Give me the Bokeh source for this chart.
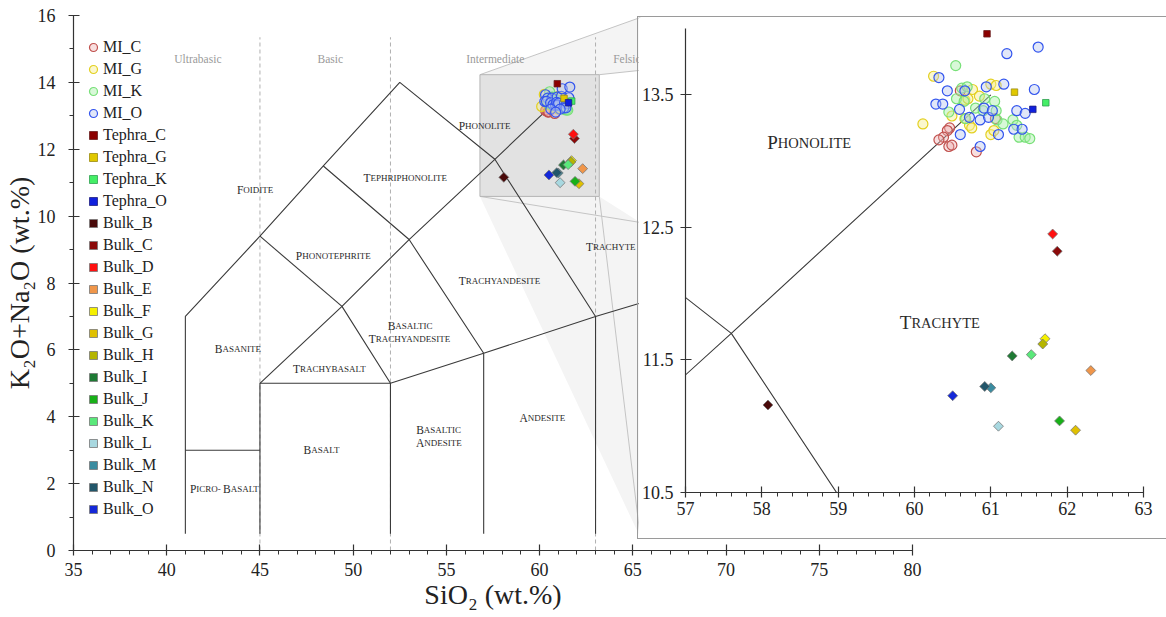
import math
from bokeh.plotting import figure
from bokeh.models import (Range1d, SingleIntervalTicker, FixedTicker, Legend, LegendItem,
                          ColumnDataSource)
from bokeh.core.properties import value
from bokeh.embed import file_html
from bokeh.resources import INLINE

FONT = "Liberation Serif"

# ---------------- data (SiO2 wt.%, K2O+Na2O wt.%) ----------------
mi_c_sio2 = [60.46, 60.43, 60.38, 60.32, 60.45, 60.49, 60.81, 60.60, 61.06]
mi_c_alk = [13.25, 13.23, 13.18, 13.16, 13.11, 13.12, 13.07, 13.53, 13.32]

mi_g_sio2 = [60.25, 60.11, 61.00, 61.07, 60.76, 60.85, 60.66, 60.70, 61.00, 61.04, 60.72, 60.75, 60.49, 60.66]
mi_g_alk = [13.64, 13.28, 13.58, 13.57, 13.54, 13.49, 13.46, 13.47, 13.20, 13.23, 13.27, 13.25, 13.34, 13.32]

mi_k_sio2 = [60.54, 60.62, 60.69, 60.55, 60.65, 61.05, 60.45, 60.80, 60.90, 61.07, 61.08, 61.16, 61.29,
             61.34, 61.37, 61.45, 61.51, 60.67, 60.92]
mi_k_alk = [13.72, 13.55, 13.56, 13.47, 13.45, 13.45, 13.37, 13.40, 13.38, 13.38, 13.31, 13.28, 13.31,
            13.27, 13.18, 13.18, 13.17, 13.32, 13.47]

mi_o_sio2 = [60.32, 60.43, 60.66, 60.94, 61.17, 61.21, 61.62, 61.57, 60.28, 60.37, 60.59, 60.72, 60.86,
             60.91, 60.97, 61.02, 61.34, 61.45, 61.30, 61.41, 60.60, 61.10, 60.86]
mi_o_alk = [13.63, 13.53, 13.53, 13.56, 13.58, 13.81, 13.86, 13.54, 13.43, 13.43, 13.39, 13.33, 13.31,
            13.40, 13.33, 13.38, 13.38, 13.36, 13.24, 13.24, 13.20, 13.20, 13.11]

tephra_names = ["Tephra_C", "Tephra_G", "Tephra_K", "Tephra_O"]
tephra_sio2 = [60.95, 61.31, 61.72, 61.55]
tephra_alk = [13.96, 13.52, 13.44, 13.39]

bulk_names = ["Bulk_B", "Bulk_C", "Bulk_D", "Bulk_E", "Bulk_F", "Bulk_G", "Bulk_H",
              "Bulk_I", "Bulk_J", "Bulk_K", "Bulk_L", "Bulk_M", "Bulk_N", "Bulk_O"]
bulk_sio2 = [58.08, 61.87, 61.81, 62.31, 61.71, 62.11, 61.68, 61.28, 61.90, 61.53, 61.10, 61.00, 60.92, 60.50]
bulk_alk = [11.16, 12.32, 12.45, 11.42, 11.66, 10.97, 11.62, 11.53, 11.04, 11.54, 11.00, 11.29, 11.30, 11.23]

# TAS field boundaries (Le Bas et al. 1986)
tas_sio2 = [
    [41, 41, 45, 48.4, 52.5, 57.6, 63, 63],
    [41, 45],
    [45, 45, 52, 52],
    [52, 57, 63, 69],
    [57, 57],
    [45, 49.4, 52],
    [49.4, 53, 57],
    [45, 49.4],
    [48.4, 53, 57.6, 61],
]
tas_alk = [
    [0.5, 7, 9.4, 11.5, 14, 11.7, 7, 0.5],
    [3, 3],
    [0.5, 5, 5, 0.5],
    [5, 5.9, 7, 8],
    [0.5, 5.9],
    [5, 7.3, 5],
    [7.3, 9.3, 5.9],
    [9.4, 7.3],
    [11.5, 9.3, 11.7, 13.5],
]

divider_sio2 = [45, 52, 63]
zone_names = ["Ultrabasic", "Basic", "Intermediate", "Felsic"]

# field names in small caps: (initial, rest)
field_initial = ["F", "T", "P", "P", "B", "B", "T", "T", "T", "T", "A", "B", "A", "B", "P", "B"]
field_rest = ["OIDITE", "EPHRIPHONOLITE", "HONOLITE", "HONOTEPHRITE", "ASANITE", "ASALTIC",
              "RACHYANDESITE", "RACHYBASALT", "RACHYANDESITE", "RACHYTE", "NDESITE", "ASALTIC",
              "NDESITE", "ASALT", "ICRO-", "ASALT"]
inset_initial = ["P", "T"]
inset_rest = ["HONOLITE", "RACHYTE"]

# ---------------- layout / style positions ----------------
zone_x = [41.67, 48.77, 57.62, 64.68]
zone_y = [14.71] * 4
field_x = [44.11, 50.93, 56.00, 47.27, 42.99, 52.26, 51.21, 47.15, 56.04, 62.87, 59.37, 53.79, 53.81,
           47.75, 41.59, 43.43]
field_y = [10.78, 11.14, 12.69, 8.81, 6.03, 6.72, 6.32, 5.43, 8.06, 9.07, 3.96, 3.60, 3.21, 3.01, 1.84, 1.84]
inset_lx = [58.21, 59.96]
inset_ly = [13.14, 11.78]

zoom_x0, zoom_x1, zoom_y0, zoom_y1 = 56.8, 63.2, 10.59, 14.23
edge_x = 65.40
edge_y = [15.94, 14.36, 9.81, 0.39]

mi_style = [("MI_C", mi_c_sio2, mi_c_alk, "#c0504d", "#eeb0b0", 0.4),
            ("MI_G", mi_g_sio2, mi_g_alk, "#e3d020", "#f6ee90", 0.45),
            ("MI_K", mi_k_sio2, mi_k_alk, "#78e078", "#a8f0a8", 0.45),
            ("MI_O", mi_o_sio2, mi_o_alk, "#3355ee", "#b4c4ee", 0.4)]
tephra_fill = ["#8b0000", "#e0c800", "#44ee66", "#1020dd"]
tephra_line = ["#6a2020", "#9a8a10", "#30a050", "#202080"]
bulk_fill = ["#4a0a0a", "#8b0a0a", "#ff1010", "#f0964a", "#f5f000", "#e0c000", "#b5b500",
             "#1e7a34", "#18b018", "#5ae87a", "#a8d8e0", "#3a8ca0", "#22566a", "#1428d8"]


def style_axis(ax, size):
    ax.axis_line_color = "#333333"
    ax.axis_line_width = 1.2
    ax.major_tick_line_color = "#333333"
    ax.minor_tick_line_color = "#333333"
    ax.major_tick_line_width = 1.2
    ax.major_tick_in = 6
    ax.major_tick_out = 5
    ax.minor_tick_in = 0
    ax.minor_tick_out = 4
    ax.major_label_text_font = FONT
    ax.major_label_text_font_size = size
    ax.major_label_text_color = "#222222"
    ax.axis_label_text_font = FONT
    ax.axis_label_text_font_style = "normal"
    ax.axis_label_text_color = "#222222"


def draw_tas(fig):
    fig.multi_line(xs=tas_sio2, ys=tas_alk, line_color="#3a3a3a", line_width=1.1)


def draw_smallcaps(fig, xs, ys, initials, rests, cap_size, small_size):
    src = ColumnDataSource(dict(x=xs, y=ys, a=initials, b=rests))
    fig.text(x="x", y="y", text="a", source=src, text_align="right", text_baseline="alphabetic",
             text_font=value(FONT), text_font_size=cap_size, text_color="#2a2a2a")
    fig.text(x="x", y="y", text="b", source=src, text_align="left", text_baseline="alphabetic",
             text_font=value(FONT), text_font_size=small_size, text_color="#2a2a2a")


def draw_points(fig):
    rends = []
    for name, xs, ys, lc, fc, fa in mi_style:
        r = fig.scatter(xs, ys, marker="circle", size=10, line_color=lc, line_width=1.2,
                        fill_color=fc, fill_alpha=fa)
        rends.append((name, r))
    for name, x, y, fc, lc in zip(tephra_names, tephra_sio2, tephra_alk, tephra_fill, tephra_line):
        r = fig.scatter([x], [y], marker="square", size=6.5, fill_color=fc, line_color=lc, line_width=0.8)
        rends.append((name, r))
    for name, x, y, fc in zip(bulk_names, bulk_sio2, bulk_alk, bulk_fill):
        r = fig.scatter([x], [y], marker="square", angle=math.pi / 4, size=7, fill_color=fc,
                        line_color="#777777", line_width=0.8)
        rends.append((name, r))
    return rends


# ---------------- main TAS figure ----------------
p1 = figure(frame_width=839, frame_height=535, x_range=Range1d(35, 80), y_range=Range1d(0, 16),
            min_border_left=71, min_border_top=15, min_border_bottom=67, min_border_right=20,
            output_backend="svg", toolbar_location=None,
            background_fill_color="white", border_fill_color="white")
p1.outline_line_color = None
p1.grid.visible = False

xa = p1.xaxis[0]
xa.ticker = SingleIntervalTicker(interval=5, num_minor_ticks=5)
xa.axis_label = "SiO\u2082 (wt.%)"
style_axis(xa, "18px")
xa.major_label_standoff = 7
xa.axis_label_standoff = 0
xa.axis_label_text_font_size = "28px"

ya = p1.yaxis[0]
ya.ticker = SingleIntervalTicker(interval=2, num_minor_ticks=2)
ya.axis_label = "K\u2082O+Na\u2082O (wt.%)"
style_axis(ya, "18px")
ya.major_label_standoff = 13
ya.axis_label_standoff = 0
ya.axis_label_text_font_size = "28px"

# zoom connectors
p1.patch([zoom_x0, edge_x, edge_x, zoom_x1], [zoom_y1, edge_y[0], edge_y[1], zoom_y1],
         fill_color="#f4f4f4", line_color=None)
p1.patch([zoom_x0, zoom_x1, edge_x, edge_x], [zoom_y0, zoom_y0, edge_y[2], edge_y[3]],
         fill_color="#f4f4f4", line_color=None)
p1.segment(x0=[zoom_x0, zoom_x1, zoom_x0, zoom_x1], y0=[zoom_y1, zoom_y1, zoom_y0, zoom_y0],
           x1=[edge_x] * 4, y1=edge_y, line_color="#c4c4c4", line_width=1)
p1.quad(left=[zoom_x0], right=[zoom_x1], bottom=[zoom_y0], top=[zoom_y1],
        fill_color="#e2e2e2", line_color="#b4b4b4", line_width=1)

p1.segment(x0=divider_sio2, y0=[0] * 3, x1=divider_sio2, y1=[15.35] * 3,
           line_color="#b0b0b0", line_dash="4 3", line_width=1)
draw_tas(p1)
p1.text(x=zone_x, y=zone_y, text=zone_names, text_align="center", text_baseline="middle",
        text_font=value(FONT), text_font_size="11.5px", text_color="#9a9a9a")
draw_smallcaps(p1, field_x, field_y, field_initial, field_rest, "11.5px", "9px")
rends1 = draw_points(p1)

legend = Legend(items=[LegendItem(label=n, renderers=[r]) for n, r in rends1],
                location=(10, 31))
legend.background_fill_alpha = 0
legend.border_line_color = None
legend.padding = 0
legend.margin = 0
legend.spacing = 2
legend.glyph_width = 20
legend.glyph_height = 20
legend.label_height = 20
legend.label_standoff = 0
legend.label_text_font = FONT
legend.label_text_font_size = "16px"
legend.label_text_color = "#222222"
p1.add_layout(legend)

# ---------------- inset (zoom) figure ----------------
p2 = figure(frame_width=458, frame_height=464, x_range=Range1d(57, 63), y_range=Range1d(10.5, 14),
            min_border_left=47, min_border_top=11, min_border_bottom=46, min_border_right=23,
            output_backend="svg", toolbar_location=None,
            background_fill_color="white", border_fill_color="white")
p2.outline_line_color = None
p2.grid.visible = False
p2.styles = {"position": "absolute", "left": "637px", "top": "16px",
             "border-top": "1.5px solid #9a9a9a", "border-left": "1.5px solid #9a9a9a",
             "border-bottom": "1.5px solid #9a9a9a"}

xa2 = p2.xaxis[0]
xa2.ticker = SingleIntervalTicker(interval=1, num_minor_ticks=5)
style_axis(xa2, "18px")
xa2.major_label_standoff = 4
ya2 = p2.yaxis[0]
ya2.ticker = FixedTicker(ticks=[10.5, 11.5, 12.5, 13.5], minor_ticks=[])
style_axis(ya2, "18px")
ya2.major_label_standoff = 7

draw_tas(p2)
draw_smallcaps(p2, inset_lx, inset_ly, inset_initial, inset_rest, "19px", "14.5px")
draw_points(p2)

p = [p1, p2]
open("out.html", "w").write(file_html(p, INLINE))
